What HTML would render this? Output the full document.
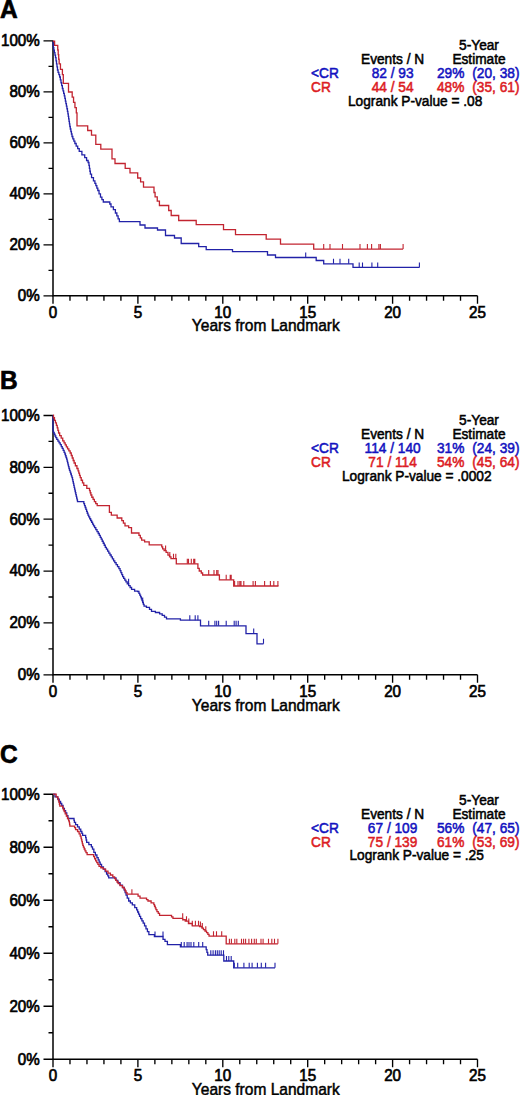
<!DOCTYPE html>
<html><head><meta charset="utf-8"><style>
html,body{margin:0;padding:0;background:#fff;}
body{width:520px;height:1095px;overflow:hidden;}
svg{display:block;font-family:"Liberation Sans", sans-serif;}
text{stroke-width:0.65px;}
.t{stroke-width:0.45px;}
g.lg text{stroke-width:0.5px;}
.k{fill:#000;stroke:#000;}
.tb{fill:#1212c0;stroke:#1212c0;}
.tr{fill:#dc1c24;stroke:#dc1c24;}
</style></head><body>
<svg width="520" height="1095" viewBox="0 0 520 1095">
<rect width="520" height="1095" fill="#fff"/>
<text transform="translate(0.00,17.60) scale(1,1.02)" font-size="24.5" font-weight="bold" class="k">A</text>
<path d="M53.0,40.9 V295.8 H477.5" fill="none" stroke="#000" stroke-width="1.5"/>
<path d="M43.5,295.80 H53.0 M48.5,270.31 H53.0 M43.5,244.82 H53.0 M48.5,219.33 H53.0 M43.5,193.84 H53.0 M48.5,168.35 H53.0 M43.5,142.86 H53.0 M48.5,117.37 H53.0 M43.5,91.88 H53.0 M48.5,66.39 H53.0 M43.5,40.90 H53.0 M53.0,295.8 V303.8 M69.98,295.8 V300.8 M86.96000000000001,295.8 V300.8 M103.94,295.8 V300.8 M120.92,295.8 V300.8 M137.9,295.8 V303.8 M154.88,295.8 V300.8 M171.86,295.8 V300.8 M188.84,295.8 V300.8 M205.82,295.8 V300.8 M222.8,295.8 V303.8 M239.78,295.8 V300.8 M256.76,295.8 V300.8 M273.74,295.8 V300.8 M290.72,295.8 V300.8 M307.70000000000005,295.8 V303.8 M324.68,295.8 V300.8 M341.66,295.8 V300.8 M358.64,295.8 V300.8 M375.62,295.8 V300.8 M392.6,295.8 V303.8 M409.58,295.8 V300.8 M426.56,295.8 V300.8 M443.54,295.8 V300.8 M460.52,295.8 V300.8 M477.5,295.8 V303.8 " fill="none" stroke="#000" stroke-width="1.35"/>
<text transform="translate(39.80,301.20) scale(1,1.1)" font-size="15.2" text-anchor="end" class="k">0%</text>
<text transform="translate(39.80,250.22) scale(1,1.1)" font-size="15.2" text-anchor="end" class="k">20%</text>
<text transform="translate(39.80,199.24) scale(1,1.1)" font-size="15.2" text-anchor="end" class="k">40%</text>
<text transform="translate(39.80,148.26) scale(1,1.1)" font-size="15.2" text-anchor="end" class="k">60%</text>
<text transform="translate(39.80,97.28) scale(1,1.1)" font-size="15.2" text-anchor="end" class="k">80%</text>
<text transform="translate(39.80,46.30) scale(1,1.1)" font-size="15.2" text-anchor="end" class="k">100%</text>
<text transform="translate(53.00,317.90) scale(1,1.1)" font-size="15.2" text-anchor="middle" class="k">0</text>
<text transform="translate(137.90,317.90) scale(1,1.1)" font-size="15.2" text-anchor="middle" class="k">5</text>
<text transform="translate(222.80,317.90) scale(1,1.1)" font-size="15.2" text-anchor="middle" class="k">10</text>
<text transform="translate(307.70,317.90) scale(1,1.1)" font-size="15.2" text-anchor="middle" class="k">15</text>
<text transform="translate(392.60,317.90) scale(1,1.1)" font-size="15.2" text-anchor="middle" class="k">20</text>
<text transform="translate(477.50,317.90) scale(1,1.1)" font-size="15.2" text-anchor="middle" class="k">25</text>
<text transform="translate(265.80,330.80) scale(1,1.1)" font-size="15.55" text-anchor="middle" class="k t">Years from Landmark</text>
<path d="M53.00,41.25 L53.12,41.25 L53.12,44.48 L53.38,44.48 L53.38,47.70 L53.50,47.70 L53.79,47.70 L53.79,50.20 L54.36,50.20 L54.36,52.70 L54.94,52.70 L54.94,55.20 L55.51,55.20 L55.51,57.70 L55.80,57.70 L56.04,57.70 L56.04,60.78 L56.51,60.78 L56.51,63.85 L56.99,63.85 L56.99,66.92 L57.46,66.92 L57.46,70.00 L57.70,70.00 L58.08,70.00 L58.08,72.33 L58.85,72.33 L58.85,74.67 L59.62,74.67 L59.62,77.00 L60.00,77.00 L60.34,77.00 L60.34,79.88 L61.01,79.88 L61.01,82.75 L61.69,82.75 L61.69,85.62 L62.36,85.62 L62.36,88.50 L62.70,88.50 L63.02,88.50 L63.02,90.97 L63.65,90.97 L63.65,93.43 L64.28,93.43 L64.28,95.90 L64.60,95.90 L64.86,95.90 L64.86,98.47 L65.38,98.47 L65.38,101.03 L65.89,101.03 L65.89,103.60 L66.41,103.60 L66.41,106.17 L66.92,106.17 L66.92,108.73 L67.44,108.73 L67.44,111.30 L67.70,111.30 L67.89,111.30 L67.89,113.83 L68.28,113.83 L68.28,116.37 L68.66,116.37 L68.66,118.90 L69.04,118.90 L69.04,121.43 L69.42,121.43 L69.42,123.97 L69.81,123.97 L69.81,126.50 L70.00,126.50 L70.29,126.50 L70.29,129.00 L70.86,129.00 L70.86,131.50 L71.44,131.50 L71.44,134.00 L72.01,134.00 L72.01,136.50 L72.30,136.50 L72.82,136.50 L72.82,138.83 L73.85,138.83 L73.85,141.17 L74.88,141.17 L74.88,143.50 L75.40,143.50 L76.17,143.50 L76.17,146.10 L77.70,146.10 L77.70,148.70 L79.23,148.70 L79.23,151.30 L80.00,151.30 L81.90,151.30 L81.90,154.90 L83.80,154.90 L84.72,154.90 L84.72,157.70 L86.58,157.70 L86.58,160.50 L87.50,160.50 L88.10,160.50 L88.10,162.50 L88.70,162.50 L88.94,162.50 L88.94,165.43 L89.41,165.43 L89.41,168.35 L89.89,168.35 L89.89,171.27 L90.36,171.27 L90.36,174.20 L90.60,174.20 L91.55,174.20 L91.55,177.55 L93.45,177.55 L93.45,180.90 L94.40,180.90 L94.89,180.90 L94.89,183.30 L95.86,183.30 L95.86,185.70 L96.84,185.70 L96.84,188.10 L97.81,188.10 L97.81,190.50 L98.30,190.50 L99.03,190.50 L99.03,193.85 L100.47,193.85 L100.47,197.20 L101.20,197.20 L101.90,197.20 L101.90,199.60 L103.30,199.60 L103.30,202.00 L104.00,202.00 L109.80,202.00 L109.80,204.00 L111.00,204.00 L111.00,206.85 L113.40,206.85 L113.40,209.70 L114.60,209.70 L115.40,209.70 L115.40,213.00 L116.20,213.00 L116.83,213.00 L116.83,215.90 L118.10,215.90 L118.10,218.80 L119.37,218.80 L119.37,221.70 L120.00,221.70 L140.00,221.70 L140.00,225.00 L145.00,225.00 L145.00,228.00 L157.50,228.00 L157.50,230.00 L165.50,230.00 L165.50,235.50 L174.50,235.50 L174.50,238.00 L181.20,238.00 L181.20,243.50 L198.70,243.50 L198.70,246.70 L206.20,246.70 L206.20,249.70 L232.50,249.70 L232.50,251.70 L267.50,251.70 L267.50,255.00 L275.50,255.00 L275.50,257.50 L316.20,257.50 L316.20,260.50 L323.70,260.50 L323.70,263.80 L353.00,263.80 L353.00,267.40 L419.40,267.40" fill="none" stroke="#2222a8" stroke-width="1.3"/>
<path d="M305.7,257.50 V252.50 M333.5,263.80 V258.80 M340,263.80 V258.80 M348.7,263.80 V258.80 M359.2,267.40 V262.40 M362.5,267.40 V262.40 M371.9,267.40 V262.40 M377.7,267.40 V262.40 M419.4,267.40 V262.40 " fill="none" stroke="#2222a8" stroke-width="1.1"/>
<path d="M53.00,41.25 L54.60,41.25 L54.60,45.40 L57.50,45.40 L57.74,45.40 L57.74,50.02 L58.21,50.02 L58.21,54.65 L58.69,54.65 L58.69,59.27 L59.16,59.27 L59.16,63.90 L59.40,63.90 L60.45,63.90 L60.45,69.30 L61.50,69.30 L62.40,69.30 L62.40,74.70 L63.30,74.70 L63.30,83.30 L68.50,83.30 L68.50,92.00 L71.50,92.00 L72.19,92.00 L72.19,97.20 L73.56,97.20 L73.56,102.40 L74.94,102.40 L74.94,107.60 L76.31,107.60 L76.31,112.80 L77.00,112.80 L77.00,125.90 L87.70,125.90 L87.70,130.50 L91.50,130.50 L91.50,135.10 L95.80,135.10 L95.80,144.30 L100.80,144.30 L100.80,149.10 L112.00,149.10 L112.00,158.80 L115.00,158.80 L115.00,163.50 L125.20,163.50 L125.20,168.40 L130.00,168.40 L130.00,172.80 L137.70,172.80 L137.70,178.00 L140.60,178.00 L140.60,181.80 L143.50,181.80 L143.50,187.20 L154.00,187.20 L154.00,192.50 L155.08,192.50 L155.08,196.83 L157.25,196.83 L157.25,201.17 L159.42,201.17 L159.42,205.50 L160.50,205.50 L168.70,205.50 L168.70,210.50 L171.20,210.50 L171.20,215.50 L178.70,215.50 L178.70,220.50 L196.20,220.50 L196.20,224.70 L223.50,224.70 L223.50,229.70 L235.50,229.70 L235.50,234.70 L266.20,234.70 L266.20,239.20 L280.50,239.20 L280.50,244.20 L313.70,244.20 L313.70,249.10 L403.10,249.10" fill="none" stroke="#c22430" stroke-width="1.3"/>
<path d="M323.7,249.10 V244.10 M330,249.10 V244.10 M342.5,249.10 V244.10 M360,249.10 V244.10 M367.4,249.10 V244.10 M371.6,249.10 V244.10 M378.9,249.10 V244.10 M380.4,249.10 V244.10 M403.1,249.10 V244.10 " fill="none" stroke="#c22430" stroke-width="1.1"/>
<g class="lg" font-size="13.7">
<text transform="translate(479.00,49.95) scale(1,1.1)" text-anchor="middle" class="k">5-Year</text>
<text transform="translate(392.60,63.85) scale(1,1.1)" text-anchor="middle" class="k">Events / N</text>
<text transform="translate(479.00,63.85) scale(1,1.1)" text-anchor="middle" class="k">Estimate</text>
<text transform="translate(311.00,77.75) scale(1,1.1)" class="tb">&lt;CR</text>
<text transform="translate(392.60,77.75) scale(1,1.1)" text-anchor="middle" class="tb">82 / 93</text>
<text transform="translate(437.00,77.75) scale(1,1.1)" class="tb">29%</text>
<text transform="translate(472.30,77.75) scale(1,1.1)" class="tb">(20, 38)</text>
<text transform="translate(311.00,91.65) scale(1,1.1)" class="tr">CR</text>
<text transform="translate(392.60,91.65) scale(1,1.1)" text-anchor="middle" class="tr">44 / 54</text>
<text transform="translate(437.00,91.65) scale(1,1.1)" class="tr">48%</text>
<text transform="translate(472.30,91.65) scale(1,1.1)" class="tr">(35, 61)</text>
<text transform="translate(348.00,105.55) scale(1,1.1)" class="k">Logrank P-value = .08</text>
</g>
<text transform="translate(0.00,388.50) scale(1,1.02)" font-size="24.5" font-weight="bold" class="k">B</text>
<path d="M53.0,415.45 V674.8 H477.5" fill="none" stroke="#000" stroke-width="1.5"/>
<path d="M43.5,674.80 H53.0 M48.5,648.87 H53.0 M43.5,622.93 H53.0 M48.5,597.00 H53.0 M43.5,571.06 H53.0 M48.5,545.12 H53.0 M43.5,519.19 H53.0 M48.5,493.25 H53.0 M43.5,467.32 H53.0 M48.5,441.38 H53.0 M43.5,415.45 H53.0 M53.0,674.8 V682.8 M69.98,674.8 V679.8 M86.96000000000001,674.8 V679.8 M103.94,674.8 V679.8 M120.92,674.8 V679.8 M137.9,674.8 V682.8 M154.88,674.8 V679.8 M171.86,674.8 V679.8 M188.84,674.8 V679.8 M205.82,674.8 V679.8 M222.8,674.8 V682.8 M239.78,674.8 V679.8 M256.76,674.8 V679.8 M273.74,674.8 V679.8 M290.72,674.8 V679.8 M307.70000000000005,674.8 V682.8 M324.68,674.8 V679.8 M341.66,674.8 V679.8 M358.64,674.8 V679.8 M375.62,674.8 V679.8 M392.6,674.8 V682.8 M409.58,674.8 V679.8 M426.56,674.8 V679.8 M443.54,674.8 V679.8 M460.52,674.8 V679.8 M477.5,674.8 V682.8 " fill="none" stroke="#000" stroke-width="1.35"/>
<text transform="translate(39.80,680.20) scale(1,1.1)" font-size="15.2" text-anchor="end" class="k">0%</text>
<text transform="translate(39.80,628.33) scale(1,1.1)" font-size="15.2" text-anchor="end" class="k">20%</text>
<text transform="translate(39.80,576.46) scale(1,1.1)" font-size="15.2" text-anchor="end" class="k">40%</text>
<text transform="translate(39.80,524.59) scale(1,1.1)" font-size="15.2" text-anchor="end" class="k">60%</text>
<text transform="translate(39.80,472.72) scale(1,1.1)" font-size="15.2" text-anchor="end" class="k">80%</text>
<text transform="translate(39.80,420.85) scale(1,1.1)" font-size="15.2" text-anchor="end" class="k">100%</text>
<text transform="translate(53.00,696.90) scale(1,1.1)" font-size="15.2" text-anchor="middle" class="k">0</text>
<text transform="translate(137.90,696.90) scale(1,1.1)" font-size="15.2" text-anchor="middle" class="k">5</text>
<text transform="translate(222.80,696.90) scale(1,1.1)" font-size="15.2" text-anchor="middle" class="k">10</text>
<text transform="translate(307.70,696.90) scale(1,1.1)" font-size="15.2" text-anchor="middle" class="k">15</text>
<text transform="translate(392.60,696.90) scale(1,1.1)" font-size="15.2" text-anchor="middle" class="k">20</text>
<text transform="translate(477.50,696.90) scale(1,1.1)" font-size="15.2" text-anchor="middle" class="k">25</text>
<text transform="translate(265.80,710.60) scale(1,1.1)" font-size="15.55" text-anchor="middle" class="k t">Years from Landmark</text>
<path d="M53.00,415.20 L53.00,430.80 L53.40,430.80 L53.40,432.52 L54.20,432.52 L54.20,434.25 L55.00,434.25 L55.00,435.98 L55.80,435.98 L55.80,437.70 L56.20,437.70 L56.78,437.70 L56.78,439.43 L57.92,439.43 L57.92,441.15 L59.08,441.15 L59.08,442.88 L60.22,442.88 L60.22,444.60 L60.80,444.60 L61.27,444.60 L61.27,446.53 L62.22,446.53 L62.22,448.45 L63.17,448.45 L63.17,450.38 L64.12,450.38 L64.12,452.30 L64.60,452.30 L64.89,452.30 L64.89,454.02 L65.46,454.02 L65.46,455.75 L66.04,455.75 L66.04,457.48 L66.61,457.48 L66.61,459.20 L66.90,459.20 L67.13,459.20 L67.13,461.06 L67.59,461.06 L67.59,462.92 L68.05,462.92 L68.05,464.78 L68.51,464.78 L68.51,466.64 L68.97,466.64 L68.97,468.50 L69.20,468.50 L69.51,468.50 L69.51,470.34 L70.13,470.34 L70.13,472.18 L70.75,472.18 L70.75,474.02 L71.37,474.02 L71.37,475.86 L71.99,475.86 L71.99,477.70 L72.30,477.70 L72.51,477.70 L72.51,479.62 L72.92,479.62 L72.92,481.53 L73.34,481.53 L73.34,483.45 L73.76,483.45 L73.76,485.37 L74.17,485.37 L74.17,487.28 L74.59,487.28 L74.59,489.20 L74.80,489.20 L75.01,489.20 L75.01,490.99 L75.42,490.99 L75.42,492.77 L75.84,492.77 L75.84,494.56 L76.25,494.56 L76.25,496.34 L76.66,496.34 L76.66,498.13 L77.08,498.13 L77.08,499.91 L77.49,499.91 L77.49,501.70 L77.70,501.70 L83.50,501.70 L83.84,501.70 L83.84,503.63 L84.53,503.63 L84.53,505.56 L85.21,505.56 L85.21,507.49 L85.90,507.49 L85.90,509.41 L86.59,509.41 L86.59,511.34 L87.27,511.34 L87.27,513.27 L87.96,513.27 L87.96,515.20 L88.30,515.20 L88.77,515.20 L88.77,516.97 L89.72,516.97 L89.72,518.73 L90.67,518.73 L90.67,520.50 L91.62,520.50 L91.62,522.27 L92.58,522.27 L92.58,524.03 L93.53,524.03 L93.53,525.80 L94.00,525.80 L94.60,525.80 L94.60,527.72 L95.80,527.72 L95.80,529.65 L97.00,529.65 L97.00,531.58 L98.20,531.58 L98.20,533.50 L98.80,533.50 L99.28,533.50 L99.28,535.40 L100.25,535.40 L100.25,537.30 L101.22,537.30 L101.22,539.20 L101.70,539.20 L102.21,539.20 L102.21,541.23 L103.24,541.23 L103.24,543.25 L104.26,543.25 L104.26,545.27 L105.29,545.27 L105.29,547.30 L105.80,547.30 L106.40,547.30 L106.40,549.22 L107.60,549.22 L107.60,551.15 L108.80,551.15 L108.80,553.08 L110.00,553.08 L110.00,555.00 L110.60,555.00 L111.20,555.00 L111.20,556.92 L112.40,556.92 L112.40,558.85 L113.60,558.85 L113.60,560.78 L114.80,560.78 L114.80,562.70 L115.40,562.70 L116.10,562.70 L116.10,564.70 L117.50,564.70 L117.50,566.70 L118.90,566.70 L118.90,568.70 L119.60,568.70 L120.04,568.70 L120.04,570.70 L120.91,570.70 L120.91,572.70 L121.79,572.70 L121.79,574.70 L122.66,574.70 L122.66,576.70 L123.10,576.70 L123.67,576.70 L123.67,578.43 L124.80,578.43 L124.80,580.17 L125.93,580.17 L125.93,581.90 L126.50,581.90 L127.22,581.90 L127.22,583.77 L128.68,583.77 L128.68,585.65 L130.12,585.65 L130.12,587.52 L131.58,587.52 L131.58,589.40 L132.30,589.40 L134.60,589.40 L134.60,591.20 L136.90,591.20 L137.70,591.20 L137.70,591.50 L138.50,591.50 L138.92,591.50 L138.92,593.30 L139.75,593.30 L139.75,595.10 L140.58,595.10 L140.58,596.90 L141.00,596.90 L141.34,596.90 L141.34,598.76 L142.02,598.76 L142.02,600.62 L142.70,600.62 L142.70,602.48 L143.38,602.48 L143.38,604.34 L144.06,604.34 L144.06,606.20 L144.40,606.20 L146.45,606.20 L146.45,607.30 L148.50,607.30 L149.50,607.30 L149.50,609.30 L151.50,609.30 L151.50,611.30 L152.50,611.30 L155.40,611.30 L155.40,612.50 L158.30,612.50 L159.60,612.50 L159.60,613.95 L162.20,613.95 L162.20,615.40 L163.50,615.40 L164.50,615.40 L164.50,617.10 L166.50,617.10 L166.50,618.80 L167.50,618.80 L180.40,618.80 L180.40,620.20 L200.50,620.20 L200.50,625.80 L246.00,625.80 L246.00,633.60 L257.00,633.60 L257.00,643.80 L263.50,643.80" fill="none" stroke="#2222a8" stroke-width="1.3"/>
<path d="M128.6,583.77 V578.77 M142.7,602.48 V597.48 M189.8,620.20 V615.20 M195.2,620.20 V615.20 M197.9,620.20 V615.20 M208.7,625.80 V620.80 M214.9,625.80 V620.80 M216.7,625.80 V620.80 M218.6,625.80 V620.80 M226.2,625.80 V620.80 M234.2,625.80 V620.80 M236.1,625.80 V620.80 M238.3,625.80 V620.80 M253.7,633.60 V628.60 M263.5,643.80 V638.80 " fill="none" stroke="#2222a8" stroke-width="1.1"/>
<path d="M53.00,415.20 L53.49,415.20 L53.49,417.75 L54.46,417.75 L54.46,420.30 L55.44,420.30 L55.44,422.85 L56.41,422.85 L56.41,425.40 L56.90,425.40 L57.23,425.40 L57.23,427.93 L57.90,427.93 L57.90,430.47 L58.57,430.47 L58.57,433.00 L58.90,433.00 L59.67,433.00 L59.67,435.60 L61.20,435.60 L61.20,438.20 L62.73,438.20 L62.73,440.80 L63.50,440.80 L64.07,440.80 L64.07,442.83 L65.20,442.83 L65.20,444.87 L66.33,444.87 L66.33,446.90 L66.90,446.90 L67.55,446.90 L67.55,448.93 L68.85,448.93 L68.85,450.97 L70.15,450.97 L70.15,453.00 L70.80,453.00 L71.27,453.00 L71.27,455.50 L72.22,455.50 L72.22,458.00 L73.17,458.00 L73.17,460.50 L74.12,460.50 L74.12,463.00 L74.60,463.00 L75.38,463.00 L75.38,465.75 L76.92,465.75 L76.92,468.50 L77.70,468.50 L78.06,468.50 L78.06,470.80 L78.79,470.80 L78.79,473.10 L79.51,473.10 L79.51,475.40 L80.24,475.40 L80.24,477.70 L80.60,477.70 L81.23,477.70 L81.23,480.27 L82.50,480.27 L82.50,482.83 L83.77,482.83 L83.77,485.40 L84.40,485.40 L86.80,485.40 L86.80,488.30 L89.20,488.30 L89.53,488.30 L89.53,490.53 L90.20,490.53 L90.20,492.77 L90.87,492.77 L90.87,495.00 L91.20,495.00 L91.83,495.00 L91.83,497.23 L93.10,497.23 L93.10,499.47 L94.37,499.47 L94.37,501.70 L95.00,501.70 L95.72,501.70 L95.72,503.65 L97.18,503.65 L97.18,505.60 L97.90,505.60 L109.40,505.60 L109.40,512.30 L111.35,512.30 L111.35,515.20 L113.30,515.20 L117.15,515.20 L117.15,518.00 L121.00,518.00 L121.80,518.00 L121.80,520.60 L123.40,520.60 L123.40,523.20 L125.00,523.20 L125.00,525.80 L125.80,525.80 L128.65,525.80 L128.65,527.70 L131.50,527.70 L131.50,533.00 L138.30,533.00 L138.97,533.00 L138.97,535.40 L140.30,535.40 L140.30,537.80 L141.63,537.80 L141.63,540.20 L142.30,540.20 L144.60,540.20 L144.60,541.90 L146.90,541.90 L149.20,541.90 L149.20,544.80 L151.50,544.80 L161.30,544.80 L161.75,544.80 L161.75,546.80 L162.65,546.80 L162.65,548.80 L163.10,548.80 L164.10,548.80 L164.10,550.55 L166.10,550.55 L166.10,552.30 L167.10,552.30 L167.95,552.30 L167.95,555.20 L168.80,555.20 L169.53,555.20 L169.53,556.95 L170.97,556.95 L170.97,558.70 L171.70,558.70 L176.30,558.70 L176.30,563.80 L197.90,563.80 L197.90,568.30 L199.25,568.30 L199.25,571.00 L200.60,571.00 L201.28,571.00 L201.28,573.00 L202.62,573.00 L202.62,575.00 L203.30,575.00 L219.40,575.00 L219.40,579.80 L233.70,579.80 L233.70,586.00 L278.50,586.00" fill="none" stroke="#c22430" stroke-width="1.3"/>
<path d="M165.6,550.55 V545.55 M169.8,556.95 V551.95 M173.5,558.70 V553.70 M175.8,558.70 V553.70 M187.3,563.80 V558.80 M188.5,563.80 V558.80 M191.3,563.80 V558.80 M193.7,563.80 V558.80 M194.8,563.80 V558.80 M208.7,575.00 V570.00 M214,575.00 V570.00 M216.7,575.00 V570.00 M218,575.00 V570.00 M226.2,579.80 V574.80 M230.2,579.80 V574.80 M231.2,579.80 V574.80 M234.6,586.00 V581.00 M238,586.00 V581.00 M239.8,586.00 V581.00 M241,586.00 V581.00 M243.8,586.00 V581.00 M253.1,586.00 V581.00 M255.4,586.00 V581.00 M264.6,586.00 V581.00 M270.4,586.00 V581.00 M273.8,586.00 V581.00 M277.9,586.00 V581.00 " fill="none" stroke="#c22430" stroke-width="1.1"/>
<g class="lg" font-size="13.7">
<text transform="translate(479.00,425.30) scale(1,1.1)" text-anchor="middle" class="k">5-Year</text>
<text transform="translate(392.60,439.20) scale(1,1.1)" text-anchor="middle" class="k">Events / N</text>
<text transform="translate(479.00,439.20) scale(1,1.1)" text-anchor="middle" class="k">Estimate</text>
<text transform="translate(311.00,453.10) scale(1,1.1)" class="tb">&lt;CR</text>
<text transform="translate(392.60,453.10) scale(1,1.1)" text-anchor="middle" class="tb">114 / 140</text>
<text transform="translate(437.00,453.10) scale(1,1.1)" class="tb">31%</text>
<text transform="translate(472.30,453.10) scale(1,1.1)" class="tb">(24, 39)</text>
<text transform="translate(311.00,467.00) scale(1,1.1)" class="tr">CR</text>
<text transform="translate(392.60,467.00) scale(1,1.1)" text-anchor="middle" class="tr">71 / 114</text>
<text transform="translate(437.00,467.00) scale(1,1.1)" class="tr">54%</text>
<text transform="translate(472.30,467.00) scale(1,1.1)" class="tr">(45, 64)</text>
<text transform="translate(342.00,480.90) scale(1,1.1)" class="k">Logrank P-value = .0002</text>
</g>
<text transform="translate(0.00,763.00) scale(1,1.02)" font-size="24.5" font-weight="bold" class="k">C</text>
<path d="M53.0,794.2 V1059.2 H477.5" fill="none" stroke="#000" stroke-width="1.5"/>
<path d="M43.5,1059.20 H53.0 M48.5,1032.70 H53.0 M43.5,1006.20 H53.0 M48.5,979.70 H53.0 M43.5,953.20 H53.0 M48.5,926.70 H53.0 M43.5,900.20 H53.0 M48.5,873.70 H53.0 M43.5,847.20 H53.0 M48.5,820.70 H53.0 M43.5,794.20 H53.0 M53.0,1059.2 V1067.2 M69.98,1059.2 V1064.2 M86.96000000000001,1059.2 V1064.2 M103.94,1059.2 V1064.2 M120.92,1059.2 V1064.2 M137.9,1059.2 V1067.2 M154.88,1059.2 V1064.2 M171.86,1059.2 V1064.2 M188.84,1059.2 V1064.2 M205.82,1059.2 V1064.2 M222.8,1059.2 V1067.2 M239.78,1059.2 V1064.2 M256.76,1059.2 V1064.2 M273.74,1059.2 V1064.2 M290.72,1059.2 V1064.2 M307.70000000000005,1059.2 V1067.2 M324.68,1059.2 V1064.2 M341.66,1059.2 V1064.2 M358.64,1059.2 V1064.2 M375.62,1059.2 V1064.2 M392.6,1059.2 V1067.2 M409.58,1059.2 V1064.2 M426.56,1059.2 V1064.2 M443.54,1059.2 V1064.2 M460.52,1059.2 V1064.2 M477.5,1059.2 V1067.2 " fill="none" stroke="#000" stroke-width="1.35"/>
<text transform="translate(39.80,1064.60) scale(1,1.1)" font-size="15.2" text-anchor="end" class="k">0%</text>
<text transform="translate(39.80,1011.60) scale(1,1.1)" font-size="15.2" text-anchor="end" class="k">20%</text>
<text transform="translate(39.80,958.60) scale(1,1.1)" font-size="15.2" text-anchor="end" class="k">40%</text>
<text transform="translate(39.80,905.60) scale(1,1.1)" font-size="15.2" text-anchor="end" class="k">60%</text>
<text transform="translate(39.80,852.60) scale(1,1.1)" font-size="15.2" text-anchor="end" class="k">80%</text>
<text transform="translate(39.80,799.60) scale(1,1.1)" font-size="15.2" text-anchor="end" class="k">100%</text>
<text transform="translate(53.00,1081.30) scale(1,1.1)" font-size="15.2" text-anchor="middle" class="k">0</text>
<text transform="translate(137.90,1081.30) scale(1,1.1)" font-size="15.2" text-anchor="middle" class="k">5</text>
<text transform="translate(222.80,1081.30) scale(1,1.1)" font-size="15.2" text-anchor="middle" class="k">10</text>
<text transform="translate(307.70,1081.30) scale(1,1.1)" font-size="15.2" text-anchor="middle" class="k">15</text>
<text transform="translate(392.60,1081.30) scale(1,1.1)" font-size="15.2" text-anchor="middle" class="k">20</text>
<text transform="translate(477.50,1081.30) scale(1,1.1)" font-size="15.2" text-anchor="middle" class="k">25</text>
<text transform="translate(265.80,1095.00) scale(1,1.1)" font-size="15.55" text-anchor="middle" class="k t">Years from Landmark</text>
<path d="M53.00,794.20 L54.95,794.20 L54.95,796.90 L56.90,796.90 L57.67,796.90 L57.67,799.20 L59.23,799.20 L59.23,801.50 L60.00,801.50 L60.58,801.50 L60.58,803.45 L61.72,803.45 L61.72,805.40 L62.30,805.40 L63.05,805.40 L63.05,808.50 L63.80,808.50 L64.40,808.50 L64.40,810.75 L65.60,810.75 L65.60,813.00 L66.20,813.00 L66.78,813.00 L66.78,815.75 L67.92,815.75 L67.92,818.50 L68.50,818.50 L73.80,818.50 L74.00,818.50 L74.00,820.40 L74.40,820.40 L74.40,822.30 L74.60,822.30 L75.57,822.30 L75.57,824.60 L77.53,824.60 L77.53,826.90 L78.50,826.90 L79.25,826.90 L79.25,829.20 L80.75,829.20 L80.75,831.50 L81.50,831.50 L81.88,831.50 L81.88,833.45 L82.62,833.45 L82.62,835.40 L83.00,835.40 L85.40,835.40 L85.65,835.40 L85.65,837.70 L86.15,837.70 L86.15,840.00 L86.65,840.00 L86.65,842.30 L86.90,842.30 L88.85,842.30 L88.85,844.60 L90.80,844.60 L91.38,844.60 L91.38,846.90 L92.52,846.90 L92.52,849.20 L93.10,849.20 L93.85,849.20 L93.85,852.30 L94.60,852.30 L95.38,852.30 L95.38,855.00 L96.92,855.00 L96.92,857.70 L97.70,857.70 L98.18,857.70 L98.18,859.93 L99.15,859.93 L99.15,862.17 L100.12,862.17 L100.12,864.40 L100.60,864.40 L101.55,864.40 L101.55,866.80 L103.45,866.80 L103.45,869.20 L104.40,869.20 L105.12,869.20 L105.12,871.60 L106.58,871.60 L106.58,874.00 L107.30,874.00 L107.78,874.00 L107.78,875.95 L108.72,875.95 L108.72,877.90 L109.20,877.90 L115.00,877.90 L115.95,877.90 L115.95,880.30 L117.85,880.30 L117.85,882.70 L118.80,882.70 L120.03,882.70 L120.03,885.10 L122.47,885.10 L122.47,887.50 L123.70,887.50 L124.17,887.50 L124.17,890.07 L125.10,890.07 L125.10,892.63 L126.03,892.63 L126.03,895.20 L126.50,895.20 L127.22,895.20 L127.22,898.10 L128.68,898.10 L128.68,901.00 L129.40,901.00 L130.38,901.00 L130.38,902.90 L132.33,902.90 L132.33,904.80 L133.30,904.80 L134.75,904.80 L134.75,907.70 L136.20,907.70 L136.67,907.70 L136.67,909.85 L137.62,909.85 L137.62,912.00 L138.57,912.00 L138.57,914.15 L139.53,914.15 L139.53,916.30 L140.00,916.30 L140.63,916.30 L140.63,918.57 L141.90,918.57 L141.90,920.83 L143.17,920.83 L143.17,923.10 L143.80,923.10 L144.53,923.10 L144.53,925.95 L145.97,925.95 L145.97,928.80 L146.70,928.80 L147.42,928.80 L147.42,931.70 L148.88,931.70 L148.88,934.60 L149.60,934.60 L154.40,934.60 L154.40,936.50 L162.10,936.50 L163.05,936.50 L163.05,939.40 L164.00,939.40 L165.00,939.40 L165.00,941.30 L166.00,941.30 L167.40,941.30 L167.40,944.60 L168.80,944.60 L180.40,944.60 L180.40,946.90 L205.80,946.90 L206.18,946.90 L206.18,949.67 L206.95,949.67 L206.95,952.43 L207.72,952.43 L207.72,955.20 L208.10,955.20 L223.80,955.20 L223.80,961.00 L233.70,961.00 L233.70,967.80 L275.00,967.80" fill="none" stroke="#2222a8" stroke-width="1.3"/>
<path d="M155,936.50 V931.50 M163,936.50 V931.50 M181.3,946.90 V941.90 M184.2,946.90 V941.90 M187.1,946.90 V941.90 M189,946.90 V941.90 M191,946.90 V941.90 M193.8,946.90 V941.90 M198.7,946.90 V941.90 M202.7,946.90 V941.90 M210.8,955.20 V950.20 M213.1,955.20 V950.20 M215.4,955.20 V950.20 M217.3,955.20 V950.20 M219.2,955.20 V950.20 M221.2,955.20 V950.20 M223.5,955.20 V950.20 M226.5,961.00 V956.00 M228.8,961.00 V956.00 M231.2,961.00 V956.00 M234.3,967.80 V962.80 M237.7,967.80 V962.80 M243.9,967.80 V962.80 M249.2,967.80 V962.80 M252.1,967.80 V962.80 M257.4,967.80 V962.80 M261.3,967.80 V962.80 M265.6,967.80 V962.80 M275,967.80 V962.80 " fill="none" stroke="#2222a8" stroke-width="1.1"/>
<path d="M53.00,794.20 L54.60,794.20 L56.15,794.20 L56.15,796.90 L57.70,796.90 L57.95,796.90 L57.95,798.70 L58.45,798.70 L58.45,800.50 L58.95,800.50 L58.95,802.30 L59.20,802.30 L59.40,802.30 L59.40,804.25 L59.80,804.25 L59.80,806.20 L60.00,806.20 L62.30,806.20 L62.68,806.20 L62.68,807.97 L63.45,807.97 L63.45,809.73 L64.22,809.73 L64.22,811.50 L64.60,811.50 L65.17,811.50 L65.17,813.85 L66.33,813.85 L66.33,816.20 L66.90,816.20 L67.48,816.20 L67.48,818.50 L68.62,818.50 L68.62,820.80 L69.20,820.80 L69.33,820.80 L69.33,822.60 L69.60,822.60 L69.60,824.40 L69.87,824.40 L69.87,826.20 L70.00,826.20 L74.60,826.20 L74.60,827.70 L75.57,827.70 L75.57,829.60 L77.53,829.60 L77.53,831.50 L78.50,831.50 L79.08,831.50 L79.08,833.85 L80.22,833.85 L80.22,836.20 L80.80,836.20 L81.02,836.20 L81.02,838.04 L81.46,838.04 L81.46,839.88 L81.90,839.88 L81.90,841.72 L82.34,841.72 L82.34,843.56 L82.78,843.56 L82.78,845.40 L83.00,845.40 L83.40,845.40 L83.40,847.20 L84.20,847.20 L84.20,849.00 L85.00,849.00 L85.00,850.80 L85.40,850.80 L85.98,850.80 L85.98,852.70 L87.12,852.70 L87.12,854.60 L87.70,854.60 L93.10,854.60 L93.62,854.60 L93.62,856.67 L94.65,856.67 L94.65,858.73 L95.68,858.73 L95.68,860.80 L96.20,860.80 L96.77,860.80 L96.77,862.63 L97.90,862.63 L97.90,864.47 L99.03,864.47 L99.03,866.30 L99.60,866.30 L100.80,866.30 L100.80,867.75 L103.20,867.75 L103.20,869.20 L104.40,869.20 L105.60,869.20 L105.60,871.15 L108.00,871.15 L108.00,873.10 L109.20,873.10 L110.40,873.10 L110.40,875.00 L112.80,875.00 L112.80,876.90 L114.00,876.90 L114.60,876.90 L114.60,878.60 L115.80,878.60 L115.80,880.30 L117.00,880.30 L117.00,882.00 L118.20,882.00 L118.20,883.70 L118.80,883.70 L120.03,883.70 L120.03,885.60 L122.47,885.60 L122.47,887.50 L123.70,887.50 L124.17,887.50 L124.17,889.17 L125.12,889.17 L125.12,890.85 L126.08,890.85 L126.08,892.53 L127.03,892.53 L127.03,894.20 L127.50,894.20 L137.10,894.20 L138.07,894.20 L138.07,896.15 L140.03,896.15 L140.03,898.10 L141.00,898.10 L145.80,898.10 L146.53,898.10 L146.53,899.55 L147.97,899.55 L147.97,901.00 L148.70,901.00 L151.10,901.00 L151.10,902.90 L153.50,902.90 L153.85,902.90 L153.85,904.58 L154.55,904.58 L154.55,906.25 L155.25,906.25 L155.25,907.92 L155.95,907.92 L155.95,909.60 L156.30,909.60 L156.95,909.60 L156.95,911.53 L158.25,911.53 L158.25,913.47 L159.55,913.47 L159.55,915.40 L160.20,915.40 L170.80,915.40 L171.53,915.40 L171.53,916.85 L172.97,916.85 L172.97,918.30 L173.70,918.30 L181.50,918.30 L182.75,918.30 L182.75,919.75 L185.25,919.75 L185.25,921.20 L186.50,921.20 L188.45,921.20 L188.45,923.50 L190.40,923.50 L192.30,923.50 L192.30,925.80 L194.20,925.80 L198.00,925.80 L199.60,925.80 L199.60,926.50 L201.20,926.50 L201.95,926.50 L201.95,928.05 L203.45,928.05 L203.45,929.60 L204.20,929.60 L204.97,929.60 L204.97,931.15 L206.53,931.15 L206.53,932.70 L207.30,932.70 L207.88,932.70 L207.88,934.45 L209.03,934.45 L209.03,936.20 L209.60,936.20 L226.20,936.20 L226.20,943.80 L277.90,943.80" fill="none" stroke="#c22430" stroke-width="1.3"/>
<path d="M131.9,894.20 V889.20 M182.7,918.30 V913.30 M186.5,921.20 V916.20 M188.8,923.50 V918.50 M192.3,925.80 V920.80 M195.4,925.80 V920.80 M198.5,925.80 V920.80 M200.4,926.50 V921.50 M202.3,928.05 V923.05 M205.8,931.15 V926.15 M213.5,936.20 V931.20 M216.5,936.20 V931.20 M221.7,936.20 V931.20 M229.4,943.80 V938.80 M231.4,943.80 V938.80 M234.8,943.80 V938.80 M236.8,943.80 V938.80 M241.5,943.80 V938.80 M243.6,943.80 V938.80 M245.6,943.80 V938.80 M248.9,943.80 V938.80 M251.6,943.80 V938.80 M254.3,943.80 V938.80 M256.3,943.80 V938.80 M261,943.80 V938.80 M263.1,943.80 V938.80 M268.5,943.80 V938.80 M271.8,943.80 V938.80 M274.5,943.80 V938.80 M277.9,943.80 V938.80 " fill="none" stroke="#c22430" stroke-width="1.1"/>
<g class="lg" font-size="13.7">
<text transform="translate(479.00,804.80) scale(1,1.1)" text-anchor="middle" class="k">5-Year</text>
<text transform="translate(392.60,818.70) scale(1,1.1)" text-anchor="middle" class="k">Events / N</text>
<text transform="translate(479.00,818.70) scale(1,1.1)" text-anchor="middle" class="k">Estimate</text>
<text transform="translate(311.00,832.60) scale(1,1.1)" class="tb">&lt;CR</text>
<text transform="translate(392.60,832.60) scale(1,1.1)" text-anchor="middle" class="tb">67 / 109</text>
<text transform="translate(437.00,832.60) scale(1,1.1)" class="tb">56%</text>
<text transform="translate(472.30,832.60) scale(1,1.1)" class="tb">(47, 65)</text>
<text transform="translate(311.00,846.50) scale(1,1.1)" class="tr">CR</text>
<text transform="translate(392.60,846.50) scale(1,1.1)" text-anchor="middle" class="tr">75 / 139</text>
<text transform="translate(437.00,846.50) scale(1,1.1)" class="tr">61%</text>
<text transform="translate(472.30,846.50) scale(1,1.1)" class="tr">(53, 69)</text>
<text transform="translate(349.50,860.40) scale(1,1.1)" class="k">Logrank P-value = .25</text>
</g>
</svg>
</body></html>
